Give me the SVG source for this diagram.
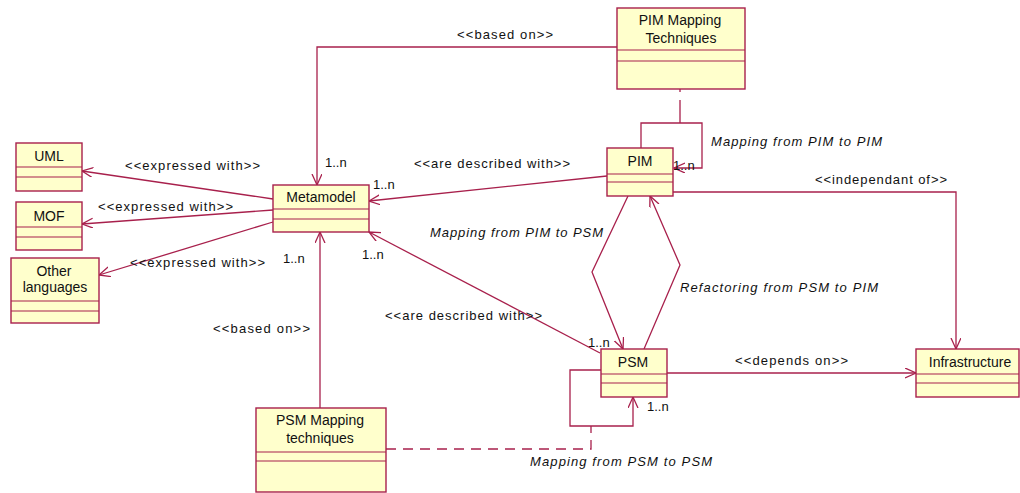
<svg xmlns="http://www.w3.org/2000/svg" width="1020" height="493" viewBox="0 0 1020 493">
  <style>
    .box { fill: #ffffcc; stroke: #a8204c; stroke-width: 1.4; }
    .div { stroke: #a8204c; stroke-width: 1.2; }
    .edge { fill: none; stroke: #a8204c; stroke-width: 1.3; }
    .dash { stroke-dasharray: 10 7; }
    .title { font-family: "Liberation Sans", Arial, sans-serif; font-size: 14px; fill: #111; text-anchor: middle; }
    .lbl { font-family: "Liberation Sans", Arial, sans-serif; font-size: 13px; fill: #111; }
    .it { font-style: italic; }
  </style>
  <defs>
    <marker id="open" markerUnits="userSpaceOnUse" markerWidth="14" markerHeight="12" refX="11" refY="5" orient="auto">
      <path d="M0,0 L11,5 L0,10" fill="none" stroke="#a8204c" stroke-width="1.3"/>
    </marker>
  </defs>
  <rect width="1020" height="493" fill="#ffffff"/>

  <!-- connectors -->
  <g id="connectors">
    <path class="edge" d="M617,47 H317 V185" marker-end="url(#open)"/>
    <path class="edge" d="M641,148 V123 H702 V168 H674" marker-end="url(#open)"/>
    <path class="edge" d="M680,89 V92 M680,100 V123"/>
    <path class="edge" d="M273,199 L82,171" marker-end="url(#open)"/>
    <path class="edge" d="M273,210 L82,224" marker-end="url(#open)"/>
    <path class="edge" d="M273,222 L99,275" marker-end="url(#open)"/>
    <path class="edge" d="M607,176 L369,201" marker-end="url(#open)"/>
    <path class="edge" d="M600,353 L369,232" marker-end="url(#open)"/>
    <path class="edge" d="M320,408 V232" marker-end="url(#open)"/>
    <path class="edge" d="M628,196 L592,272 L623,349" marker-end="url(#open)"/>
    <path class="edge" d="M644,349 L680,265 L650,196" marker-end="url(#open)"/>
    <path class="edge" d="M673,192 H956 V349" marker-end="url(#open)"/>
    <path class="edge" d="M667,373 H916" marker-end="url(#open)"/>
    <path class="edge" d="M601,370 H570 V426 H633 V397" marker-end="url(#open)"/>
    <path class="edge dash" d="M386,449 H591 V426"/>

    <text class="lbl" x="457" y="39" textLength="96">&lt;&lt;based on&gt;&gt;</text>
    <text class="lbl" x="325" y="167">1..n</text>
    <text class="lbl" x="414" y="168" textLength="156">&lt;&lt;are described with&gt;&gt;</text>
    <text class="lbl" x="373" y="189">1..n</text>
    <text class="lbl" x="125" y="170" textLength="135">&lt;&lt;expressed with&gt;&gt;</text>
    <text class="lbl" x="98" y="211" textLength="135">&lt;&lt;expressed with&gt;&gt;</text>
    <text class="lbl" x="130" y="267" textLength="135">&lt;&lt;expressed with&gt;&gt;</text>
    <text class="lbl" x="283" y="263">1..n</text>
    <text class="lbl" x="362" y="259">1..n</text>
    <text class="lbl" x="213" y="333" textLength="97">&lt;&lt;based on&gt;&gt;</text>
    <text class="lbl" x="385" y="320" textLength="157">&lt;&lt;are described with&gt;&gt;</text>
    <text class="lbl" x="588" y="347">1..n</text>
    <text class="lbl" x="647" y="411">1..n</text>
    <text class="lbl" x="735" y="365" textLength="113">&lt;&lt;depends on&gt;&gt;</text>
    <text class="lbl" x="815" y="184" textLength="132">&lt;&lt;independant of&gt;&gt;</text>
    <text class="lbl" x="673" y="170">1..n</text>
    <text class="lbl it" x="711" y="146" textLength="171">Mapping from PIM to PIM</text>
    <text class="lbl it" x="430" y="237" textLength="173">Mapping from PIM to PSM</text>
    <text class="lbl it" x="680" y="292" textLength="198">Refactoring from PSM to PIM</text>
    <text class="lbl it" x="530" y="466" textLength="182">Mapping from PSM to PSM</text>
  </g>

  <!-- classes -->
  <g id="uml">
    <rect class="box" x="16" y="143" width="66" height="48"/>
    <line class="div" x1="16" y1="167" x2="82" y2="167"/>
    <line class="div" x1="16" y1="177" x2="82" y2="177"/>
    <text class="title" x="49" y="161">UML</text>
  </g>
  <g id="mof">
    <rect class="box" x="16" y="202" width="66" height="48"/>
    <line class="div" x1="16" y1="227" x2="82" y2="227"/>
    <line class="div" x1="16" y1="237" x2="82" y2="237"/>
    <text class="title" x="49" y="221">MOF</text>
  </g>
  <g id="other-languages">
    <rect class="box" x="11" y="258" width="88" height="65"/>
    <line class="div" x1="11" y1="301" x2="99" y2="301"/>
    <line class="div" x1="11" y1="311" x2="99" y2="311"/>
    <text class="title" x="54" y="276">Other</text>
    <text class="title" x="55" y="292">languages</text>
  </g>
  <g id="metamodel">
    <rect class="box" x="273" y="185" width="96" height="47"/>
    <line class="div" x1="273" y1="209" x2="369" y2="209"/>
    <line class="div" x1="273" y1="219" x2="369" y2="219"/>
    <text class="title" x="321" y="202">Metamodel</text>
  </g>
  <g id="pim-mapping-techniques">
    <rect class="box" x="617" y="8" width="128" height="81"/>
    <line class="div" x1="617" y1="50" x2="745" y2="50"/>
    <line class="div" x1="617" y1="61" x2="745" y2="61"/>
    <text class="title" x="680" y="25">PIM Mapping</text>
    <text class="title" x="681" y="43">Techniques</text>
  </g>
  <g id="pim">
    <rect class="box" x="607" y="148" width="66" height="48"/>
    <line class="div" x1="607" y1="174" x2="673" y2="174"/>
    <line class="div" x1="607" y1="182" x2="673" y2="182"/>
    <text class="title" x="640" y="166">PIM</text>
  </g>
  <g id="psm">
    <rect class="box" x="601" y="349" width="66" height="48"/>
    <line class="div" x1="601" y1="374" x2="667" y2="374"/>
    <line class="div" x1="601" y1="383" x2="667" y2="383"/>
    <text class="title" x="633" y="367">PSM</text>
  </g>
  <g id="infrastructure">
    <rect class="box" x="916" y="349" width="103" height="48"/>
    <line class="div" x1="916" y1="374" x2="1019" y2="374"/>
    <line class="div" x1="916" y1="383" x2="1019" y2="383"/>
    <text class="title" x="970" y="367">Infrastructure</text>
  </g>
  <g id="psm-mapping-techniques">
    <rect class="box" x="256" y="408" width="130" height="84"/>
    <line class="div" x1="256" y1="452" x2="386" y2="452"/>
    <line class="div" x1="256" y1="461" x2="386" y2="461"/>
    <text class="title" x="320" y="425">PSM Mapping</text>
    <text class="title" x="320" y="443">techniques</text>
  </g>
</svg>
